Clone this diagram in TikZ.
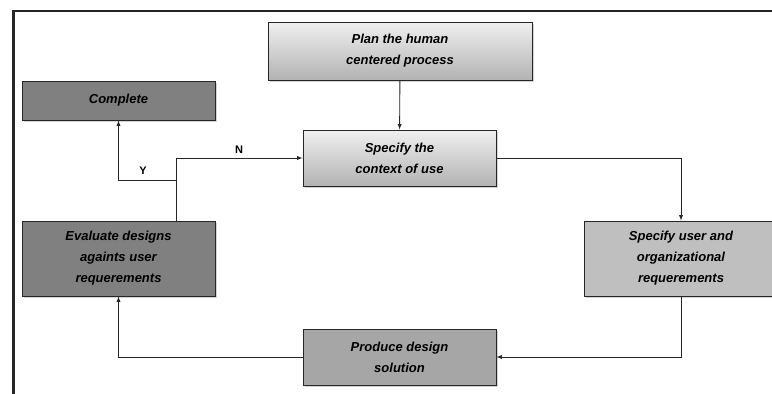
\documentclass[tikz,border=0pt]{standalone}
\usepackage{fontspec}
\setmainfont{Liberation Sans}
\usetikzlibrary{arrows,shadows,positioning,calc}
\tikzset{step box/.style={
            draw=black!85,
            line width=0.9pt,
            minimum width=193pt,
            align=center,
            font=\bfseries\itshape\fontsize{13}{21}\selectfont,
            drop shadow={shadow xshift=1.5pt,shadow yshift=-2pt,opacity=0.35}
        },
        light box/.style={
            step box,
            top color=black!6,
            bottom color=black!30
        },
        dark box/.style={
            step box,
            fill=black!50
        },
        mid box/.style={
            step box,
            fill=black!35
        },
        pale box/.style={
            step box,
            fill=black!25
        },
        flow/.style={
            >={latex[scale=1.3]},
            ->,
            black!85,
            line width=0.9pt
        },
        answer/.style={
            font=\bfseries\fontsize{11}{13}\selectfont
        }
    }

\begin{document}
\begin{tikzpicture}[x=1pt,y=-1pt]
        \useasboundingbox (0,0) rectangle (772,394);
        \draw[line width=2.5pt,black!85] (13.5,394) -- (13.5,11) -- (772,11);
        \node[light box,minimum width=264pt,minimum height=58pt] at (400,51) (plan) {Plan the human\\centered process};
        \node[dark box,minimum height=39pt] at (118.5,100.5) (complete) {Complete};
        \node[light box,minimum height=56pt] at (399.5,158) (context) {Specify the\\context of use};
        \node[pale box,minimum height=75pt] at (681,258.5) (user) {Specify user and\\organizational\\requerements};
        \node[dark box,minimum height=75pt] at (118.5,258.5) (evaluate) {Evaluate designs\\againts user\\requerements};
        \node[mid box,minimum height=56pt] at (399.5,357) (produce) {Produce design\\solution};
        \coordinate (split) at (176,180);
        \draw[flow] (plan) -- (context);
        \draw[flow] (context.east) -| (user.north);
        \draw[flow] (user.south) |- (produce.east);
        \draw[flow] (produce.west) -| (evaluate.south);
        \draw[flow] (evaluate.north -| split) |- (context.west);
        \draw[flow] (split) -| (complete.south);
        \node[answer] at (143,171) (yes) {Y};
        \node[answer] at (239,150) (no) {N};
    \end{tikzpicture}
\end{document}
